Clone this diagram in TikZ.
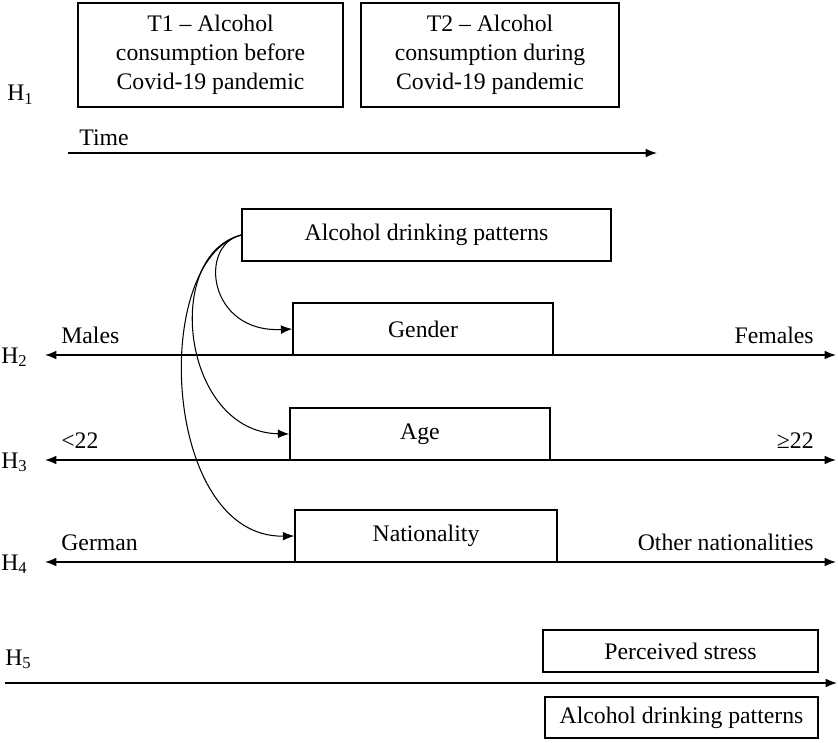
\documentclass[tikz,border=0pt]{standalone}
\usepackage{fontspec}
\setmainfont{Liberation Serif}
\usetikzlibrary{arrows.meta}

\tikzset{
  >={Latex[length=6.5pt,width=5pt]},
  box/.style={draw, line width=0.8pt, inner sep=0pt, align=center,
    font=\rmfamily\fontsize{13.5}{16.5}\selectfont},
  txt/.style={inner sep=0pt, font=\rmfamily\fontsize{13.5}{16.5}\selectfont},
  axis/.style={line width=0.8pt},
  link/.style={line width=0.6pt, ->},
}

% one hypothesis row: name, y of axis, H index, left pole, right pole
\newcommand{\hyprow}[5]{
    \coordinate (#1l) at (45,#2);
    \coordinate (#1r) at (836,#2);
    \draw[axis, <->] (#1l) -- (#1r);
    \node[txt, anchor=base west] (#1h) at (1,#2+8) {H\textsubscript{#3}};
    \node[txt, anchor=base west] (#1low) at (61,#2-12) {#4};
    \node[txt, anchor=base east] (#1high) at (814,#2-12) {#5};
}

\begin{document}
\begin{tikzpicture}[x=0.02cm, y=-0.02cm]
  \useasboundingbox (0,0) rectangle (838,743);

  % H1: the two time points
  \node[txt, anchor=base west] (h1) at (7,101) {H\textsubscript{1}};
  \node[box, minimum width=5.3cm, minimum height=2.08cm] (tone) at (210.5,55)
    {T1 -- Alcohol\\consumption before\\Covid-19 pandemic};
  \node[box, minimum width=5.16cm, minimum height=2.08cm] (ttwo) at (490,55)
    {T2 -- Alcohol\\consumption during\\Covid-19 pandemic};
  \node[txt, anchor=base west] (time) at (79,146) {Time};
  \coordinate (timel) at (68,153);
  \coordinate (timer) at (657,153);
  \draw[axis, ->] (timel) -- (timer);

  % H2--H4: drinking patterns by group
  \node[box, minimum width=7.38cm, minimum height=1.04cm] (drink) at (426.5,235)
    {Alcohol drinking patterns};
  \node[box, minimum width=5.2cm, minimum height=1.04cm] (gender) at (423,329) {Gender};
  \node[box, minimum width=5.2cm, minimum height=1.04cm] (age) at (420,434) {Age};
  \node[box, minimum width=5.24cm, minimum height=1.04cm] (nation) at (426,536) {Nationality};

  \hyprow{hb}{355}{2}{Males}{Females}
  \hyprow{hc}{460}{3}{<22}{≥22}
  \hyprow{hd}{562}{4}{German}{Other nationalities}

  \draw[link] (drink.west) .. controls (198,245) and (208,333) .. (gender.west);
  \draw[link] (drink.west) .. controls (162,255) and (182,432) .. (age.west);
  \draw[link] (drink.west) .. controls (150,260) and (162,538) .. (nation.west);

  % H5: stress and drinking
  \node[txt, anchor=base west] (h5) at (5,665) {H\textsubscript{5}};
  \node[box, minimum width=5.5cm, minimum height=0.84cm] (stress) at (680.5,651)
    {Perceived stress};
  \node[box, minimum width=5.46cm, minimum height=0.82cm] (drinktwo) at (681.5,717.5)
    {Alcohol drinking patterns};
  \coordinate (hel) at (5,683);
  \coordinate (her) at (837,683);
  \draw[axis, ->] (hel) -- (her);

\end{tikzpicture}
\end{document}
